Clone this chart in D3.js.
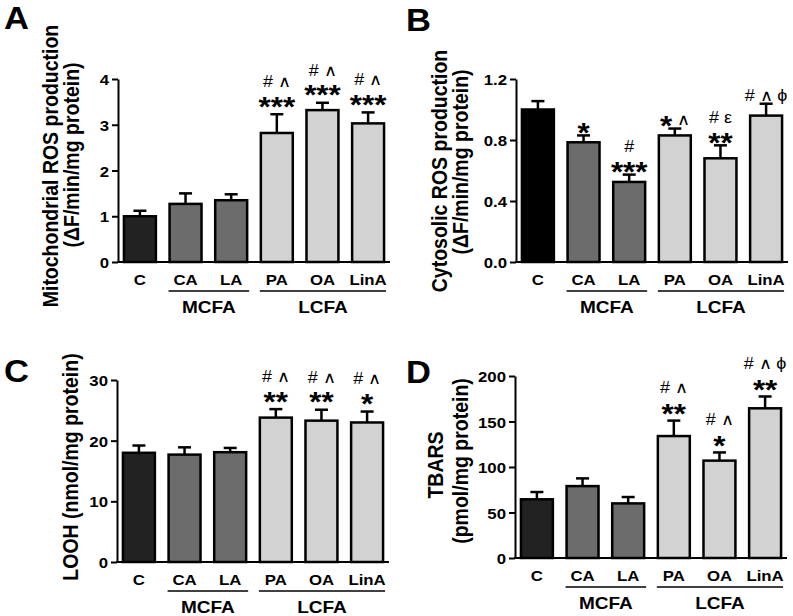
<!DOCTYPE html>
<html><head><meta charset="utf-8">
<script src="https://cdn.jsdelivr.net/npm/d3@7"></script>
<style>body{margin:0;background:#fff}</style>
</head><body>
<svg id="c" width="793" height="616"></svg>
<script>
// ---------- data ----------
const categories = ["C", "CA", "LA", "PA", "OA", "LinA"];
const groupNames = ["MCFA", "LCFA"];
const groupMembers = [["CA", "LA"], ["PA", "OA", "LinA"]];

const mitoMean = [1.00, 1.27, 1.35, 2.82, 3.32, 3.03];
const mitoSEM  = [0.12, 0.23, 0.13, 0.41, 0.16, 0.24];
const mitoTicks = [0, 1, 2, 3, 4];
const mitoAnn = [[], [], [], ["***", "# ∧"], ["***", "# ∧"], ["***", "# ∧"]];

const cytoMean = [1.00, 0.785, 0.525, 0.83, 0.68, 0.96];
const cytoSEM  = [0.055, 0.045, 0.048, 0.045, 0.085, 0.078];
const cytoTicks = [0, 0.4, 0.8, 1.2];
const cytoAnn = [[], ["*"], ["***", "#"], ["* ∧"], ["**", "# ε"], ["# ∧ ϕ"]];

const loohMean = [18.0, 17.7, 18.1, 23.8, 23.3, 23.0];
const loohSEM  = [1.2, 1.2, 0.7, 1.4, 1.8, 1.8];
const loohTicks = [0, 10, 20, 30];
const loohAnn = [[], [], [], ["**", "# ∧"], ["**", "# ∧"], ["*", "# ∧"]];

const tbarsMean = [64.5, 79, 60, 134, 107, 164.5];
const tbarsSEM  = [8, 8.5, 7, 17, 9, 13];
const tbarsTicks = [0, 50, 100, 150, 200];
const tbarsAnn = [[], [], [], ["**", "# ∧"], ["*", "# ∧"], ["**", "# ∧ ϕ"]];

// ---------- drawing ----------
const svg = d3.select("#c");
const FONT = "'Liberation Sans', Arial, Helvetica, sans-serif";
const SX = 1.12;
const DARK = "#222222", MID = "#6c6c6c", LIGHT = "#d2d2d2";

function drawPanel(p) {
  const g = svg.append("g");
  const x = d3.scaleBand().domain(categories)
    .range([p.ax, p.ax + 272]).paddingInner(0.3).paddingOuter(0.13);
  const y = d3.scaleLinear().domain(p.domain).range([p.y0, p.yTop]);
  const bw = x.bandwidth();

  // error bars
  const eb = g.append("g").attr("stroke", "#000").attr("stroke-width", 2.5);
  categories.forEach((c, i) => {
    const cx = x(c) + bw / 2;
    const top = y(p.mean[i] + p.sem[i]);
    eb.append("line").attr("x1", cx).attr("x2", cx).attr("y1", y(p.mean[i])).attr("y2", top);
    eb.append("line").attr("x1", cx - 6.5).attr("x2", cx + 6.5).attr("y1", top).attr("y2", top);
  });

  // bars
  g.selectAll("rect.bar").data(categories).join("rect")
    .attr("class", "bar")
    .attr("x", d => x(d))
    .attr("width", bw)
    .attr("y", (d, i) => y(p.mean[i]))
    .attr("height", (d, i) => y(0) - y(p.mean[i]))
    .attr("fill", (d, i) => p.colors[i])
    .attr("stroke", "#000").attr("stroke-width", 2.5);

  // y axis
  const axis = d3.axisLeft(y).tickValues(p.ticks).tickFormat(p.fmt)
    .tickSizeInner(6).tickSizeOuter(0).tickPadding(3);
  const ag = g.append("g").attr("transform", `translate(${p.ax},0)`).call(axis);
  ag.select(".domain").attr("stroke-width", 2);
  ag.selectAll(".tick line").attr("stroke-width", 2);
  ag.selectAll(".tick text")
    .attr("font-family", FONT).attr("font-weight", "bold").attr("font-size", 15)
    .attr("fill", "#000")
    .attr("x", null).attr("dy", null)
    .attr("transform", `translate(-9,5.5) scale(${SX},1)`);

  // x axis line
  g.append("line").attr("x1", p.ax - 1).attr("x2", p.ax + 272)
    .attr("y1", p.y0).attr("y2", p.y0).attr("stroke", "#000").attr("stroke-width", 2);

  // category labels
  categories.forEach(c => {
    g.append("text").text(c)
      .attr("transform", `translate(${x(c) + bw / 2},${p.y0 + 23}) scale(${SX},1)`)
      .attr("text-anchor", "middle").attr("font-family", FONT)
      .attr("font-weight", "bold").attr("font-size", 15);
  });

  // group underlines and labels
  groupNames.forEach((gn, k) => {
    const m = groupMembers[k];
    const x1 = x(m[0]) - 1, x2 = x(m[m.length - 1]) + bw + 2;
    g.append("line").attr("x1", x1).attr("x2", x2)
      .attr("y1", p.y0 + 29).attr("y2", p.y0 + 29)
      .attr("stroke", "#000").attr("stroke-width", 1.5);
    g.append("text").text(gn)
      .attr("transform", `translate(${(x1 + x2) / 2},${p.y0 + 51}) scale(${SX},1)`)
      .attr("text-anchor", "middle").attr("font-family", FONT)
      .attr("font-weight", "bold").attr("font-size", 17);
  });

  // significance annotations: one text element per bar, one chunk per line
  categories.forEach((c, i) => {
    const lines = p.ann[i];
    if (!lines.length) return;
    const top = y(p.mean[i] + p.sem[i]);
    const t = g.append("text")
      .attr("transform", `translate(${x(c) + bw / 2},${top}) scale(${SX},1)`)
      .attr("text-anchor", "middle").attr("font-family", FONT);
    let cur = 0;
    lines.forEach((ln, k) => {
      const center = -p.gaps[k];
      const tokens = ln.match(/\*+|[^*]+/g);
      tokens.forEach((tok, j) => {
        const star = tok[0] === "*";
        const base = center + (star ? 15.5 : 5.8);
        const ts = t.append("tspan").text(tok)
          .attr("dy", base - cur)
          .attr("font-size", star ? 28 : 16)
          .attr("font-weight", star ? "bold" : "normal");
        if (j === 0) ts.attr("x", 0);
        cur = base;
      });
    });
  });

  // panel letter
  svg.append("text").text(p.letter)
    .attr("transform", `translate(${p.lx},${p.ly}) scale(1.08,1)`)
    .attr("font-family", FONT).attr("font-weight", "bold").attr("font-size", 32);

  // y-axis title lines
  p.ylab.forEach(l => {
    svg.append("text").text(l.t)
      .attr("transform", `translate(${l.x},${l.y}) scale(1.1,1) rotate(-90)`)
      .attr("text-anchor", "middle").attr("font-family", FONT)
      .attr("font-weight", "bold").attr("font-size", 19.5);
  });
}

const colorsStd = [DARK, MID, MID, LIGHT, LIGHT, LIGHT];
const colorsB = ["#000000", MID, MID, LIGHT, LIGHT, LIGHT];

drawPanel({ letter: "A", lx: 4, ly: 29, ax: 118, y0: 262, yTop: 79, domain: [0, 4],
  mean: mitoMean, sem: mitoSEM, ticks: mitoTicks, fmt: d3.format("d"), ann: mitoAnn,
  colors: colorsStd, gaps: [14, 33],
  ylab: [{ t: "Mitochondrial ROS production", x: 58, y: 166 },
         { t: "(ΔF/min/mg protein)", x: 79, y: 155 }] });

drawPanel({ letter: "B", lx: 406, ly: 31, ax: 516, y0: 262, yTop: 79, domain: [0, 1.2],
  mean: cytoMean, sem: cytoSEM, ticks: cytoTicks, fmt: d3.format(".1f"), ann: cytoAnn,
  colors: colorsB, gaps: [9, 28],
  ylab: [{ t: "Cytosolic ROS production", x: 447, y: 171 },
         { t: "(ΔF/min/mg protein)", x: 468, y: 162 }] });

drawPanel({ letter: "C", lx: 4, ly: 382, ax: 117, y0: 562, yTop: 380, domain: [0, 30],
  mean: loohMean, sem: loohSEM, ticks: loohTicks, fmt: d3.format("d"), ann: loohAnn,
  colors: colorsStd, gaps: [14, 33],
  ylab: [{ t: "LOOH (nmol/mg protein)", x: 78, y: 467 }] });

drawPanel({ letter: "D", lx: 406, ly: 383, ax: 515, y0: 558, yTop: 376, domain: [0, 200],
  mean: tbarsMean, sem: tbarsSEM, ticks: tbarsTicks, fmt: d3.format("d"), ann: tbarsAnn,
  colors: colorsStd, gaps: [13, 33],
  ylab: [{ t: "TBARS", x: 443, y: 465 },
         { t: "(pmol/mg protein)", x: 468, y: 461 }] });
</script>
</body></html>
